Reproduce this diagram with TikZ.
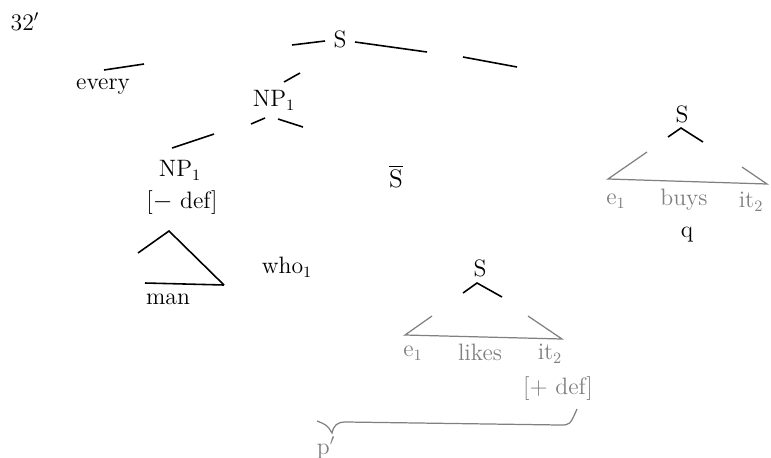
\documentclass[tikz,border=0pt]{standalone}
\usepackage{amssymb, amsmath}
\usepackage{tikz}
\colorlet{faint}{black!50}
\tikzset{
  branch/.style={line width=0.9pt},
  faintbranch/.style={line width=0.7pt, faint},
  faintlabel/.style={text=faint}
}

\begin{document}
\begin{tikzpicture}[x=0.02cm, y=-0.02cm, font=\fontsize{13.5}{16}\selectfont]
  \useasboundingbox (0, 0) rectangle (771, 457);

  \node (num) at (25, 22) {32$'$};

  % S du haut
  \node (sTop) at (340, 39) {S};
  \draw[branch] (292, 45) -- (325, 41);
  \draw[branch] (355, 42) -- (427, 52);
  \draw[branch] (463, 57) -- (517, 67);

  % every, NP_1
  \node (every) at (103, 87) {every};
  \draw[branch] (104, 70) -- (144, 64);
  \node (npTop) at (274, 100) {NP$_1$};
  \draw[branch] (284, 82) -- (300, 73);
  \draw[branch] (251, 124) -- (265, 118);
  \draw[branch] (278, 119) -- (303, 127);

  % NP_1 [- def] et triangle
  \draw[branch] (172, 148) -- (214, 134);
  \node (npLow) at (180, 170) {NP$_1$};
  \node (minusDef) at (182, 203) {[$-$ def]};
  \draw[branch] (138, 253) -- (169, 231) -- (224, 285);
  \draw[branch] (145, 283) -- (224, 285);
  \node (man) at (168, 299) {man};
  \node (who) at (287, 267) {who$_1$};

  % S barre
  \node (sBar) at (396, 176) {$\overline{\mathrm{S}}$};

  % S de la relative
  \begin{scope}
    \node (sRel) at (480, 268) {S};
    \draw[branch] (463, 293) -- (477, 283) -- (502, 297);
    \draw[faintbranch] (432, 316) -- (405, 335) -- (562, 339) -- (528, 316);
    \node[faintlabel] (eRel) at (413, 353) {e$_1$};
    \node[faintlabel] (likes) at (480, 352) {likes};
    \node[faintlabel] (itRel) at (550, 354) {it$_2$};
    \node[faintlabel] (plusDef) at (558, 389) {[+ def]};

    % accolade p'
    \draw[faintbranch] (317, 421) .. controls (327, 425) .. (332, 433)
      .. controls (334, 425) and (337, 422) .. (346, 422) -- (560, 425)
      .. controls (570, 425) .. (577, 409);
    \node[faintlabel] (pPrime) at (326, 448) {p$'$};
  \end{scope}

  % S de droite
  \begin{scope}
    \node (sRight) at (682, 114) {S};
    \draw[branch] (668, 137) -- (681, 128) -- (703, 142);
    \draw[faintbranch] (647, 152) -- (608, 179) -- (767, 184) -- (742, 167);
    \node[faintlabel] (eRight) at (616, 201) {e$_1$};
    \node[faintlabel] (buys) at (684, 200) {buys};
    \node[faintlabel] (itRight) at (751, 202) {it$_2$};
    \node (q) at (687, 235) {q};
  \end{scope}

\end{tikzpicture}
\end{document}
